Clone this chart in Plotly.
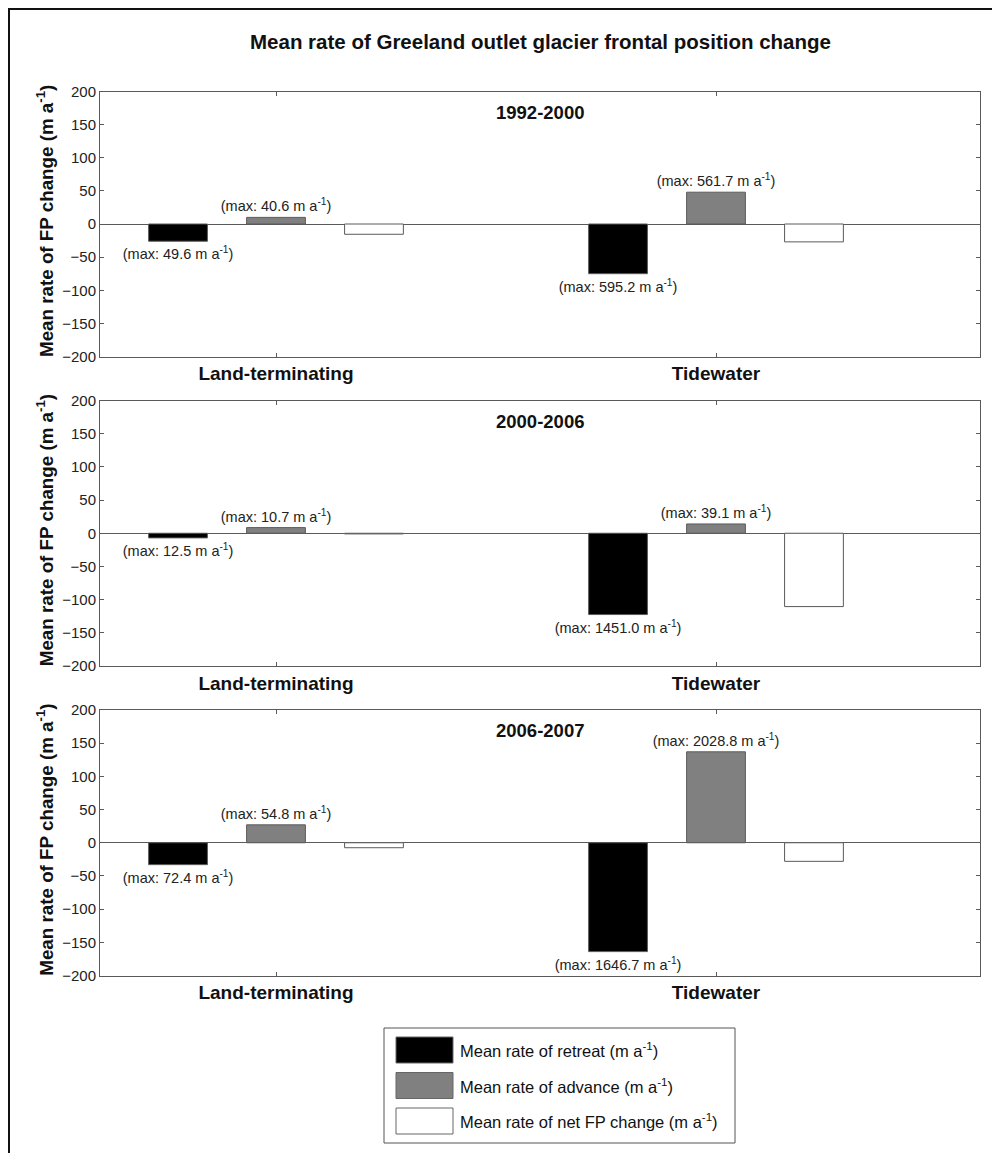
import plotly.graph_objects as go

# Mean frontal-position change rates (m a^-1) per period and glacier type
periods = ["1992-2000", "2000-2006", "2006-2007"]
categories = ["Land-terminating", "Tidewater"]
retreat = [[-26, -75], [-7, -122.5], [-33, -164]]
advance = [[10, 48], [8.5, 14], [27, 137]]
net_change = [[-15.5, -27], [-1, -110.5], [-7.5, -28]]
max_retreat = [[49.6, 595.2], [12.5, 1451.0], [72.4, 1646.7]]
max_advance = [[40.6, 561.7], [10.7, 39.1], [54.8, 2028.8]]
y_ticks = [-200, -150, -100, -50, 0, 50, 100, 150, 200]

W, H = 992, 1153
FONT = "Liberation Sans, Arial, sans-serif"
EDGE = "#5a5a5a"

# Panel boxes in pixels: (top, bottom)
panel_px = [(91.5, 356.5), (400.5, 666), (710, 975.5)]
x_left, x_right = 100, 980


def py(v):
    return 1 - v / H


def px(v):
    return v / W


def max_label(v):
    return f"(max: {v:.1f} m a<sup>-1</sup>)"


fig = go.Figure()
layout_axes = {}
annotations = []

for i, period in enumerate(periods):
    n = "" if i == 0 else str(i + 1)
    xa, ya = "x" + n, "y" + n
    fig.add_trace(go.Bar(
        x=categories, y=retreat[i], xaxis=xa, yaxis=ya,
        marker=dict(color="#000000", line=dict(color=EDGE, width=1)),
        text=[max_label(v) for v in max_retreat[i]], textposition="outside",
        textfont=dict(family=FONT, size=14.5, color="#222"),
        constraintext="none", cliponaxis=False, showlegend=False,
    ))
    fig.add_trace(go.Bar(
        x=categories, y=advance[i], xaxis=xa, yaxis=ya,
        marker=dict(color="#808080", line=dict(color=EDGE, width=1)),
        text=[max_label(v) for v in max_advance[i]], textposition="outside",
        textfont=dict(family=FONT, size=14.5, color="#222"),
        constraintext="none", cliponaxis=False, showlegend=False,
    ))
    fig.add_trace(go.Bar(
        x=categories, y=net_change[i], xaxis=xa, yaxis=ya,
        marker=dict(color="#ffffff", line=dict(color=EDGE, width=1)),
        showlegend=False,
    ))

    top, bottom = panel_px[i]
    layout_axes["xaxis" + n] = dict(
        domain=[px(x_left), px(x_right)], anchor=ya, type="category",
        range=[-0.4, 1.6], showline=True, linecolor=EDGE, linewidth=1,
        mirror="ticks", ticks="inside", ticklen=4, tickcolor=EDGE,
        tickfont=dict(family=FONT, size=19, color="#111", weight="bold"),
        showgrid=False, zeroline=False, ticklabelstandoff=0, automargin=False,
    )
    layout_axes["yaxis" + n] = dict(
        domain=[py(bottom), py(top)], anchor=xa, range=[-200, 200],
        tickvals=y_ticks, showline=True, linecolor=EDGE, linewidth=1,
        mirror="ticks", ticks="inside", ticklen=4, tickcolor=EDGE,
        tickfont=dict(family=FONT, size=15, color="#222"),
        showgrid=False, zeroline=True, zerolinecolor=EDGE, zerolinewidth=1,
        automargin=False,
    )
    # Period title inside each panel
    annotations.append(dict(
        text=f"<b>{period}</b>", x=px((x_left + x_right) / 2), y=py(top + 21),
        xref="paper", yref="paper", xanchor="center", yanchor="middle",
        showarrow=False, font=dict(family=FONT, size=18.5, color="#111"),
    ))
    # Y-axis title
    annotations.append(dict(
        text="<b>Mean rate of FP change (m a<sup>-1</sup>)</b>",
        x=px(45), y=py((top + bottom) / 2 - 3), xref="paper", yref="paper",
        xanchor="center", yanchor="middle", showarrow=False, textangle=-90,
        font=dict(family=FONT, size=18.8, color="#111"),
    ))

# Figure title
annotations.append(dict(
    text="<b>Mean rate of Greeland outlet glacier frontal position change</b>",
    x=px(540), y=py(41), xref="paper", yref="paper",
    xanchor="center", yanchor="middle", showarrow=False,
    font=dict(family=FONT, size=20.5, color="#111"),
))

# Legend drawn as a boxed key below the panels
shapes = [
    dict(type="rect", xref="paper", yref="paper",
         x0=px(9), y0=-0.2, x1=1.2, y1=py(9),
         line=dict(color="#111", width=2), fillcolor="rgba(0,0,0,0)", layer="above"),
    dict(type="rect", xref="paper", yref="paper",
         x0=px(384), y0=py(1143), x1=px(735), y1=py(1028),
         line=dict(color="#555", width=1), fillcolor="#ffffff"),
]
legend_items = [
    ("#000000", "Mean rate of retreat (m a<sup>-1</sup>)"),
    ("#808080", "Mean rate of advance (m a<sup>-1</sup>)"),
    ("#ffffff", "Mean rate of net FP change (m a<sup>-1</sup>)"),
]
for k, (color, label) in enumerate(legend_items):
    y0 = 1037 + k * 35.5
    shapes.append(dict(
        type="rect", xref="paper", yref="paper",
        x0=px(396), x1=px(453), y0=py(y0 + 26), y1=py(y0),
        line=dict(color="#666", width=1), fillcolor=color,
    ))
    annotations.append(dict(
        text=label, x=px(458), y=py(y0 + 13), xref="paper", yref="paper",
        xanchor="left", yanchor="middle", showarrow=False,
        font=dict(family=FONT, size=16.5, color="#111"),
    ))

fig.update_layout(
    width=W, height=H, margin=dict(l=0, r=0, t=0, b=0, pad=0, autoexpand=False),
    paper_bgcolor="#ffffff", plot_bgcolor="#ffffff",
    barmode="group", bargap=0.332, bargroupgap=0.4,
    showlegend=False, annotations=annotations, shapes=shapes,
    font=dict(family=FONT),
    **layout_axes,
)

fig.write_html("out.html")
